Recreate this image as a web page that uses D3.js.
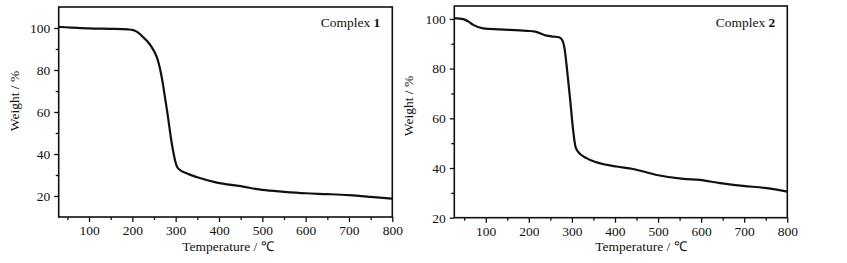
<!DOCTYPE html>
<html>
<head>
<meta charset="utf-8">
<script src="https://cdn.jsdelivr.net/npm/d3@7"></script>
<style>
  body { margin: 0; background: #fff; }
  svg { display: block; }
  svg text { font-family: "Liberation Serif", "Times New Roman", serif !important; fill: #111; }
</style>
</head>
<body>
<svg class="chart" width="847" height="263"></svg>
<script>
// Complex 1 TGA curve: [temperature °C, weight %]
const complex1 = [
  [30, 100.5], [60, 100.2], [100, 99.8], [150, 99.6], [190, 99.3], [202, 99.0],
  [210, 98.3], [218, 97.0], [225, 95.6], [235, 93.6], [245, 90.8], [252, 88.2],
  [258, 85.2], [264, 80.5], [270, 74], [276, 66], [282, 58], [287, 50.5],
  [291, 45], [295, 40.5], [299, 36.5], [303, 34.0], [310, 32.4], [325, 30.8],
  [350, 28.9], [395, 26.4], [450, 24.7], [500, 22.9], [550, 22], [600, 21.3],
  [650, 20.9], [700, 20.4], [750, 19.6], [800, 18.7]
];

// Complex 2 TGA curve
const complex2 = [
  [27, 100.3], [48, 99.9], [60, 98.9], [71, 97.6], [94, 96.2], [133, 95.8],
  [195, 95.2], [215, 94.9], [241, 93.3], [257, 92.9], [270, 92.6], [277, 91.6],
  [283, 88], [288, 80.8], [296, 67.4], [303, 55], [308, 48.8], [314, 46.6],
  [334, 44], [365, 41.9], [404, 40.6], [442, 39.6], [497, 37.2], [559, 35.6],
  [597, 35.2], [644, 33.9], [698, 32.8], [752, 31.9], [800, 30.5]
];

const xTicks = [100, 200, 300, 400, 500, 600, 700, 800];
const xMinor = [50, 150, 250, 350, 450, 550, 650, 750];
const yTicks = [20, 40, 60, 80, 100];

const panels = [
  { name: "1", data: complex1, xDomain: [30, 800], yDomain: [10, 110],
    left: 58.7, right: 392.3, top: 7, bottom: 217,
    yMinor: [30, 50, 70, 90], xTitle: 228, yTitle: 101 },
  { name: "2", data: complex2, xDomain: [27, 800], yDomain: [20, 105.2],
    left: 454.3, right: 787.3, top: 6, bottom: 217.7,
    yMinor: [30, 50, 70, 90], xTitle: 641, yTitle: 106 }
];

const svg = d3.select(".chart");

panels.forEach(p => {
  const x = d3.scaleLinear().domain(p.xDomain).range([p.left, p.right]);
  const y = d3.scaleLinear().domain(p.yDomain).range([p.bottom, p.top]);
  const g = svg.append("g");

  // minor ticks
  g.append("g")
    .attr("transform", `translate(0, ${p.bottom})`)
    .call(d3.axisBottom(x).tickValues(xMinor).tickSize(3).tickFormat(""));
  g.append("g")
    .attr("transform", `translate(${p.left}, 0)`)
    .call(d3.axisLeft(y).tickValues(p.yMinor).tickSize(3).tickFormat(""));

  // major axes
  g.append("g")
    .attr("transform", `translate(0, ${p.bottom})`)
    .call(d3.axisBottom(x).tickValues(xTicks).tickSize(5).tickSizeOuter(0).tickPadding(3.5));
  g.append("g")
    .attr("transform", `translate(${p.left}, 0)`)
    .call(d3.axisLeft(y).tickValues(yTicks).tickSize(4.5).tickSizeOuter(0).tickPadding(4));

  g.selectAll(".domain").remove();
  g.selectAll(".tick line").attr("stroke", "#111").attr("stroke-width", 1.3);
  g.selectAll(".tick text").style("font-size", "13.5px");

  // frame
  g.append("rect")
    .attr("x", x.range()[0]).attr("y", y.range()[1])
    .attr("width", x.range()[1] - x.range()[0])
    .attr("height", y.range()[0] - y.range()[1])
    .attr("fill", "none").attr("stroke", "#111").attr("stroke-width", 1.6);

  // curve
  g.append("path")
    .datum(p.data)
    .attr("fill", "none")
    .attr("stroke", "#111")
    .attr("stroke-width", 2.2)
    .attr("stroke-linejoin", "round")
    .attr("d", d3.line().x(d => x(d[0])).y(d => y(d[1])).curve(d3.curveMonotoneX));

  // titles
  g.append("text")
    .attr("x", p.xTitle).attr("y", 251)
    .attr("text-anchor", "middle").style("font-size", "13.5px")
    .text("Temperature / ℃");
  g.append("text")
    .attr("transform", `translate(${p.left - 40 + (p.name === "2" ? -1 : 0)}, ${p.yTitle}) rotate(-90)`)
    .attr("text-anchor", "middle").style("font-size", "13.5px")
    .text("Weight / %");

  const label = g.append("text")
    .attr("x", p.right - 12).attr("y", 27)
    .attr("text-anchor", "end").style("font-size", "13.5px");
  label.append("tspan").text("Complex ");
  label.append("tspan").attr("font-weight", "bold").text(p.name);
});
</script>
</body>
</html>
